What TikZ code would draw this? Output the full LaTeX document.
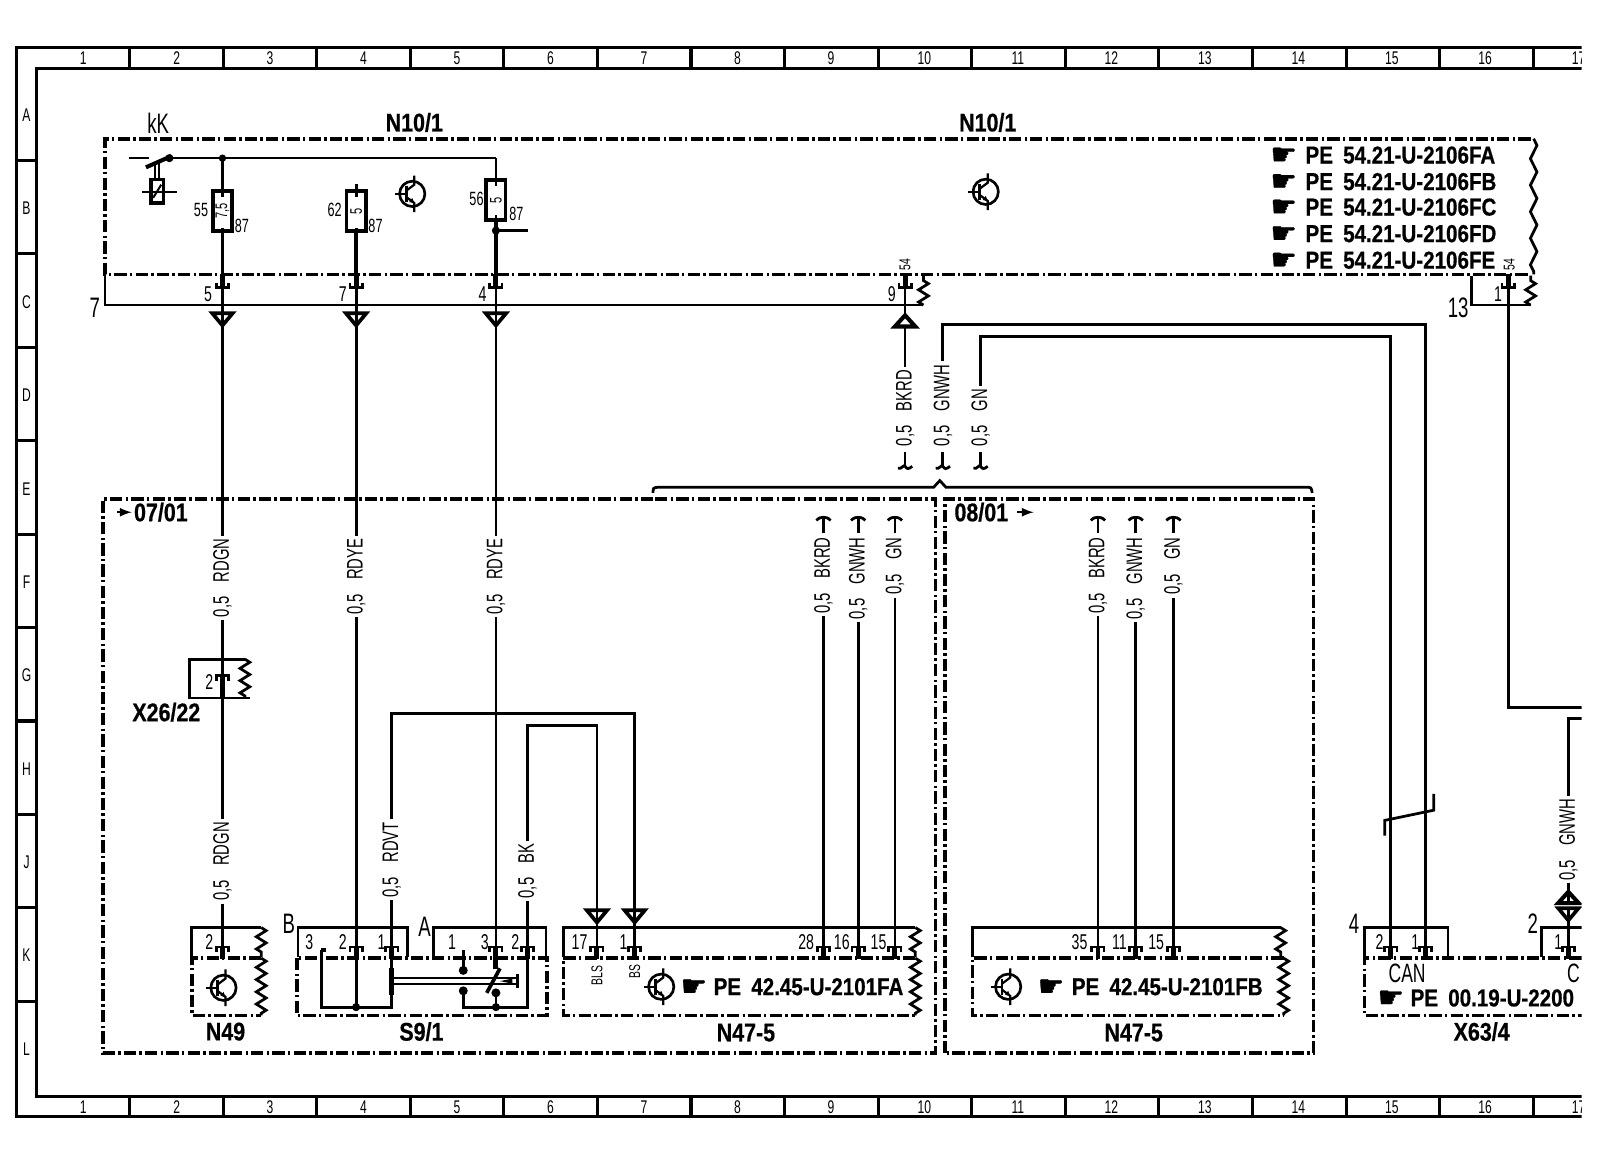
\documentclass[tikz,border=0pt]{standalone}
\usepackage{fontspec}
\usepackage{graphicx}
\usetikzlibrary{decorations.pathmorphing}
\setmainfont[FakeStretch=0.66]{Liberation Sans}
\newfontfamily\handf{DejaVu Sans}[FakeBold=1]
\newfontfamily\heavyf{Liberation Sans Bold}[FakeStretch=0.84,FakeBold=0.6]
\tikzset{
  x=0.5pt,y=-0.5pt,
  frameline/.style={line width=1.5pt,line cap=butt},
  wire/.style={line width=1.35pt},
  thinw/.style={line width=1.1pt},
  stub/.style={line width=2.4pt},
  dbox/.style={line width=1.7pt,dash pattern=on 6pt off 1.6pt on 1.2pt off 1.6pt},
  zigbig/.style={line width=1.35pt,decorate,decoration={zigzag,segment length=13pt,amplitude=1.6pt}},
  zigsm/.style={line width=1.35pt,decorate,decoration={zigzag,segment length=6pt,amplitude=2.4pt}},
  numl/.style={font=\fontsize{10.5}{11}\selectfont,inner sep=0pt},
  bigl/.style={font=\fontsize{13.8}{14}\selectfont,inner sep=0pt},
  smalll/.style={font=\fontsize{7.7}{8}\selectfont,inner sep=0pt},
  fusel/.style={font=\fontsize{9.4}{10}\selectfont,inner sep=0pt},
  gridl/.style={font=\fontsize{9}{10}\selectfont,inner sep=0pt},
  namel/.style={font=\fontsize{12.5}{13}\selectfont\heavyf,inner sep=0pt},
  pel/.style={font=\fontsize{12}{13}\selectfont\heavyf,inner sep=0pt,anchor=west},
  handl/.style={font=\fontsize{14.5}{15}\selectfont\handf,inner sep=0pt},
  wlab/.style={font=\fontsize{11}{12}\selectfont,inner sep=1.2pt,rotate=90,anchor=east},
  fusebox/.style={draw,line width=1.8pt,minimum width=9.5pt,minimum height=19.5pt,inner sep=0pt,font=\fontsize{8.2}{9}\selectfont},
  ecu/.pic={
    \draw[line width=1.3pt] (0,0) circle (6.2pt);
    \draw[line width=1.1pt] (-17,0)--(-6,0);
    \draw[line width=1.4pt] (-6,-8)--(-6,8);
    \draw[line width=1.1pt] (-6,-3)--(2,-9)--(2,-18);
    \draw[line width=1.1pt] (-6,3)--(2,9)--(2,18);
    \fill (2,9)--(-3,8)--(0,4)--cycle;
  }
}
\newcommand\pinB[3]{\coordinate (#1) at (#2,#3);
  \draw[wire] (#2-6,#3-5)--(#2-6,#3)--(#2+6,#3)--(#2+6,#3-5);
  \draw[stub] (#2,#3-13)--(#2,#3);}
\newcommand\pinT[3]{\coordinate (#1) at (#2,#3);
  \draw[wire] (#2-6,#3+5)--(#2-6,#3)--(#2+6,#3)--(#2+6,#3+5);
  \draw[stub] (#2,#3)--(#2,#3+12);}
\newcommand\triD[3]{\coordinate (#1) at (#2,#3);
  \draw[line width=1.8pt,line join=miter] (#2-10,#3)--(#2+10,#3)--(#2,#3+12)--cycle;}
\newcommand\triU[3]{\coordinate (#1) at (#2,#3);
  \draw[line width=2pt,line join=miter] (#2-10,#3)--(#2+10,#3)--(#2,#3-11)--cycle;}
\newcommand\hookD[3]{\coordinate (#1) at (#2,#3-15);
  \draw[wire] (#2,#3-15)--(#2,#3-1);
  \draw[wire] (#2-7,#3+1) .. controls (#2-3,#3+2) and (#2-2,#3-3) .. (#2,#3-1) .. controls (#2+2,#3+2) and (#2+3,#3+2) .. (#2+7,#3-1);}
\newcommand\hookU[3]{\coordinate (#1) at (#2,#3+15);
  \draw[wire] (#2,#3+15)--(#2,#3+1);
  \draw[wire] (#2-7,#3+3) .. controls (#2-4,#3) and (#2-2,#3) .. (#2,#3) .. controls (#2+2,#3) and (#2+4,#3) .. (#2+7,#3+3);}
\begin{document}
\begin{tikzpicture}
\useasboundingbox (0,0) rectangle (1568,1143);
\begin{scope}
\clip (0,0) rectangle (1550,1143);
% frame
\draw[frameline] (1550,47)--(16,47)--(16,1094)--(1550,1094);
\draw[frameline] (1550,67)--(36,67)--(36,1075)--(1550,1075);
\foreach \k in {0,...,15}{
  \draw[frameline] ({127+91.7*\k},47)--({127+91.7*\k},67);
  \draw[frameline] ({127+91.7*\k},1075)--({127+91.7*\k},1094);
}
\foreach \k/\t in {0/1,1/2,2/3,3/4,4/5,5/6,6/7,7/8,8/9,9/10,10/11,11/12,12/13,13/14,14/15,15/16,16/17}{
  \node[gridl] (ct\t) at ({81.5+91.6*\k},57) {\t};
  \node[gridl] (cb\t) at ({81.5+91.6*\k},1085) {\t};
}
\foreach \k in {0,...,9}{\draw[frameline] (16,{157+91.6*\k})--(36,{157+91.6*\k});}
\foreach \k/\t in {0/A,1/B,2/C,3/D,4/E,5/F,6/G,7/H,8/J,9/K,10/L}{
  \node[gridl] (r\t) at (26,{113+91.5*\k}) {\t};
}
% N10/1 box
\draw[dbox] (1500,136)--(103,136)--(103,269)--(1500,269);
\draw[zigbig] (1503,136)--(1503,269);
\node[bigl] (kK) at (155,121) {kK};
\node[namel] (n101a) at (406,120) {N10/1};
\node[namel] (n101b) at (968,120) {N10/1};
\pic at (404,190) {ecu};
\pic at (966,188) {ecu};
\foreach \y/\s in {152/A,178/B,203/C,229/D,255/E}{
  \node[handl] (hd\s) at (1258,\y+1) {☛};
  \node[pel] (pe\s) at (1279,\y) {PE\hspace{5pt}54.21-U-2106F\s};
}
% lower rail
\draw[wire] (103,269)--(103,299)--(905,299);
\draw[zigsm] (905,299)--(905,270);
\draw[wire] (1442,270)--(1442,299)--(1500,299);
\draw[zigsm] (1500,299)--(1500,270);
\node[bigl] (v7a) at (93,302) {7};
\node[bigl] (v13) at (1429,302) {13};
\node[numl] (v5) at (204,288) {5};
\node[numl] (v7) at (336,288) {7};
\node[numl] (v4) at (473,288) {4};
\node[numl] (v9) at (874,288) {9};
\node[numl] (v1) at (1468,288) {1};
\node[smalll,rotate=90] (s54a) at (887,259) {54};
\node[smalll,rotate=90] (s54b) at (1479,259) {54};
% switch kK
\coordinate (swa) at (126,155);
\coordinate (swb) at (166,155);
\coordinate (j55) at (218,155);
\coordinate (j56) at (486,155);
\draw[thinw] (swa)--(146,155);
\draw[line width=2pt] (143,164)--(168,153);
\fill (swb) circle (2pt);
\draw[thinw] (swb)--(j56);
\fill (j55) circle (1.8pt);
\draw[line width=1pt] (152,160)--(152,176);
\draw[line width=1pt] (156,158)--(156,176);
\draw[line width=1.6pt] (148,176) rectangle (160,199);
\draw[line width=1pt] (139,188)--(173,188);
\draw[line width=1pt] (150,194)--(158,181);
% fuses
\node[fusebox] (f55) at (218,207) {\rotatebox{90}{7,5}};
\node[fusebox] (f62) at (349,207) {\rotatebox{90}{5}};
\node[fusebox] (f56) at (486,196) {\rotatebox{90}{5}};
\node[fusel] (l55) at (197,206) {55};
\node[fusel] (l87a) at (237,221) {87};
\node[fusel] (l62) at (328,206) {62};
\node[fusel] (l87b) at (368,221) {87};
\node[fusel] (l56) at (467,195) {56};
\node[fusel] (l87c) at (506,210) {87};
\draw[wire] (j55)--(f55.north);
\draw[wire] (f55.north)--++(0,7);
\draw[wire] (f55.south)--++(0,-5);
\draw[wire] (f62.north)--++(0,-5);
\draw[wire] (f62.north)--++(0,7);
\draw[wire] (f62.south)--++(0,-5);
\draw[wire] (j56)--(f56.north);
\draw[wire] (f56.north)--++(0,8);
\draw[wire] (f56.south)--++(0,-7);
% pins under N10/1
\pinB{p5}{218}{282}\pinB{p7}{349}{282}\pinB{p4}{486}{282}\pinB{p9}{887}{282}\pinB{p1}{1478}{282}
\draw[wire] (f55.south)--(p5);
\draw[line width=2pt] (f62.south)--(p7);
\draw[line width=1.7pt] (f56.south)--(p4);
\coordinate (j56b) at (486,226);
\coordinate (e56) at (517,226);
\fill (j56b) circle (2pt);
\draw[wire] (j56b)--(e56);
\draw[wire] (p9)--(887,308);
% triangles
\triD{td5}{218}{307}\triD{td7}{349}{307}\triD{td4}{486}{307}
\triU{tu9}{887}{320}
\draw[wire] (p5)--(218,320);
\draw[wire] (p7)--(349,320);
\draw[wire] (p4)--(486,320);
% enclosure boxes
\draw[dbox] (640,489)--(101,489)--(101,1032)--(917,1032)--(917,489)--(640,489);
\draw[dbox] (926,1032)--(926,489)--(1287,489)--(1287,1032)--(926,1032);
\draw[wire] (640,483) .. controls (640,478) .. (645,477.5) -- (915,477.5) -- (921,471) -- (927,477.5) -- (1280,477.5) .. controls (1285,477.5) .. (1286,483);
\node[namel,anchor=west] (t0701) at (131,502) {07/01};
\draw[-latex,line width=1pt] (115,502)--(129,502);
\node[namel,anchor=west] (t0801) at (935,502) {08/01};
\draw[-latex,line width=1pt] (997,502)--(1013,502);
% upper wire labels and hooks
\hookD{hA}{887}{458}\hookD{hB}{924}{458}\hookD{hC}{961}{458}
\node[wlab,anchor=west] (wA) at (887,440) {0,5\hspace{7pt}BKRD};
\node[wlab,anchor=west] (wB) at (924,440) {0,5\hspace{7pt}GNWH};
\node[wlab,anchor=west] (wC) at (961,440) {0,5\hspace{7pt}GN};
\draw[wire] (wA.east)--(tu9);
\draw[wire] (wB.east)--(924,318)--(1397,318)--(1397,928);
\draw[wire] (wC.east)--(961,330)--(1363,330)--(1363,928);
% left column wires
\node[wlab] (wR1) at (218,525) {0,5\hspace{7pt}RDGN};
\node[wlab] (wY1) at (349,525) {0,5\hspace{7pt}RDYE};
\node[wlab] (wY2) at (486,525) {0,5\hspace{7pt}RDYE};
\draw[wire] (218,320)--(wR1.east);
\draw[wire] (349,320)--(wY1.east);
\draw[wire] (486,320)--(wY2.east);
% X26/22
\draw[wire] (240,646)--(186,646)--(186,684)--(245,684);
\draw[zigsm] (240,646)--(240,684);
\pinT{px}{218}{662}
\draw[stub] (218,674)--(218,684);
\node[numl] (x2) at (205,668) {2};
\node[namel] (x26) at (163,698) {X26/22};
\draw[wire] (wR1.west)--(px);
\node[wlab] (wR2) at (218,803) {0,5\hspace{7pt}RDGN};
\draw[wire] (218,684)--(wR2.east);
% N49
\draw[wire] (188,938)--(188,909)--(256,909);
\draw[zigsm] (256,909)--(256,938);
\draw[dbox] (256,939)--(188,939)--(188,995)--(256,995);
\draw[zigsm] (256,939)--(256,995);
\pinT{pn}{218}{928}
\draw[wire] (wR2.west)--(pn);
\node[numl] (n2) at (205,923) {2};
\pic at (219,968) {ecu};
\node[namel] (n49) at (221,1011) {N49};
% S9/1
\draw[wire] (292,938)--(292,909)--(399,909)--(399,938);
\draw[wire] (425,938)--(425,909)--(535,909)--(535,938);
\draw[dbox] (291,939) rectangle (536,995);
\node[bigl] (lB) at (283,905) {B};
\node[bigl] (lA) at (416,908) {A};
\foreach \x/\t/\n in {303/3/a,336/2/b,374/1/c,443/1/d,475/3/e,505/2/f}{\node[numl] (sn\n) at (\x,923) {\t};}
\pinT{s2}{349}{928}\pinT{s1}{384}{928}\pinT{s3}{486}{928}\pinT{s22}{517}{928}
\node[namel] (s91) at (413,1011) {S9/1};
\draw[wire] (wY1.west)--(s2);
\draw[wire] (wY2.west)--(s3);
\node[wlab] (wV) at (384,803) {0,5\hspace{7pt}RDVT};
\node[wlab] (wK) at (517,824) {0,5\hspace{7pt}BK};
\draw[wire] (wV.west)--(s1);
\draw[wire] (wK.west)--(s22);
\draw[wire] (wV.east)--(384,699)--(622,699)--(622,905);
\draw[wire] (wK.east)--(517,711)--(585,711)--(585,905);
\draw[wire] (315,931)--(315,987)--(384,987)--(384,940);
\draw[stub] (315,931)--(319,931);
\draw[wire] (349,940)--(349,987);
\fill (349,987) circle (2pt);
\draw[line width=2.4pt] (384,949)--(384,975);
\draw[line width=1pt] (384,958.5)--(507,958.5);
\draw[line width=1pt] (384,964.5)--(507,964.5);
\draw[line width=1.2pt] (507,955)--(507,968);
\draw[wire] (454,931)--(454,951);
\fill (454,951) circle (2.2pt);
\draw[line width=1.8pt] (477,973)--(490,949);
\draw[stub] (486,940)--(486,950);
\fill (454,971) circle (2.2pt);
\fill (486,973) circle (2.2pt);
\draw[wire] (454,971)--(454,987)--(517,987)--(517,940);
\draw[wire] (486,973)--(486,987);
\fill (486,987) circle (2pt);
\fill (490,961.5)--(502,959)--(502,964)--cycle;
% N47-5 first
\draw[wire] (552,938)--(552,909)--(897,909);
\draw[zigsm] (897,909)--(897,938);
\draw[dbox] (897,939)--(552,939)--(552,995)--(897,995);
\draw[zigsm] (897,939)--(897,995);
\foreach \x/\t/\n in {568/17/a,611/1/b,790/28/c,825/16/d,861/15/e}{\node[numl] (mn\n) at (\x,923) {\t};}
\triD{tb1}{585}{892}\triD{tb2}{622}{892}
\pinT{m17}{585}{928}\pinT{m1}{622}{928}\pinT{m28}{807}{928}\pinT{m16}{841}{928}\pinT{m15}{877}{928}
\draw[wire] (585,905)--(m17);
\draw[wire] (622,905)--(m1);
\node[smalll,rotate=90] (bls) at (585,956) {BLS};
\node[smalll,rotate=90] (bs) at (622,952) {BS};
\pic at (648,967) {ecu};
\node[handl] (hd1) at (680,968) {☛};
\node[pel] (pe1) at (699,967) {PE\hspace{5pt}42.45-U-2101FA};
\node[namel] (n475a) at (731,1012) {N47-5};
\hookU{hm1}{807}{507}\hookU{hm2}{841}{507}\hookU{hm3}{877}{507}
\node[wlab] (wm1) at (807,524) {0,5\hspace{7pt}BKRD};
\node[wlab] (wm2) at (841,524) {0,5\hspace{7pt}GNWH};
\node[wlab] (wm3) at (877,524) {0,5\hspace{7pt}GN};
\draw[wire] (wm1.west)--(m28);
\draw[wire] (wm2.west)--(m16);
\draw[wire] (wm3.west)--(m15);
% N47-5 second
\draw[wire] (953,938)--(953,909)--(1255,909);
\draw[zigsm] (1255,909)--(1255,938);
\draw[dbox] (1258,939)--(953,939)--(953,995)--(1258,995);
\draw[zigsm] (1258,939)--(1258,995);
\foreach \x/\t/\n in {1058/35/a,1097/11/b,1133/15/c}{\node[numl] (on\n) at (\x,923) {\t};}
\pinT{o35}{1076}{928}\pinT{o11}{1113}{928}\pinT{o15}{1150}{928}
\pic at (988,967) {ecu};
\node[handl] (hd2) at (1030,968) {☛};
\node[pel] (pe2) at (1050,967) {PE\hspace{5pt}42.45-U-2101FB};
\node[namel] (n475b) at (1111,1012) {N47-5};
\hookU{ho1}{1076}{507}\hookU{ho2}{1113}{507}\hookU{ho3}{1150}{507}
\node[wlab] (wo1) at (1076,524) {0,5\hspace{7pt}BKRD};
\node[wlab] (wo2) at (1113,524) {0,5\hspace{7pt}GNWH};
\node[wlab] (wo3) at (1150,524) {0,5\hspace{7pt}GN};
\draw[wire] (wo1.west)--(o35);
\draw[wire] (wo2.west)--(o11);
\draw[wire] (wo3.west)--(o15);
% X63/4
\draw[wire] (1337,938)--(1337,909)--(1419,909)--(1419,938);
\draw[wire] (1511,938)--(1511,909)--(1550,909);
\draw[dbox] (1550,939)--(1337,939)--(1337,995)--(1550,995);
\pinT{y2}{1363}{928}\pinT{y1}{1397}{928}\pinT{y3}{1537}{928}
\node[bigl] (y4l) at (1327,905) {4};
\node[bigl] (y2l) at (1502,905) {2};
\node[numl] (yn1) at (1352,923) {2};
\node[numl] (yn2) at (1387,923) {1};
\node[numl] (yn3) at (1527,923) {1};
\node[numl,font=\fontsize{13}{14}\selectfont] (can) at (1379,954) {CAN};
\node[numl,font=\fontsize{13}{14}\selectfont] (can2) at (1542,954) {C};
\node[handl] (hd3) at (1363,979) {☛};
\node[pel] (pe3) at (1382,978) {PE\hspace{5pt}00.19-U-2200};
\node[namel] (x634) at (1452,1011) {X63/4};
\draw[wire] (1357,819)--(1357,804)--(1405,794)--(1405,778);
% right wires
\draw[wire] (p1)--(1478,693)--(1550,693);
\node[wlab] (wR) at (1537,780) {0,5\hspace{7pt}GNWH};
\draw[wire] (1550,704)--(1537,704)--(wR.east);
\triU{ty1}{1537}{885}
\triD{ty2}{1537}{890}
\draw[wire] (wR.west)--(1537,885);
\draw[wire] (1537,890)--(y3);
\end{scope}
\end{tikzpicture}
\end{document}
